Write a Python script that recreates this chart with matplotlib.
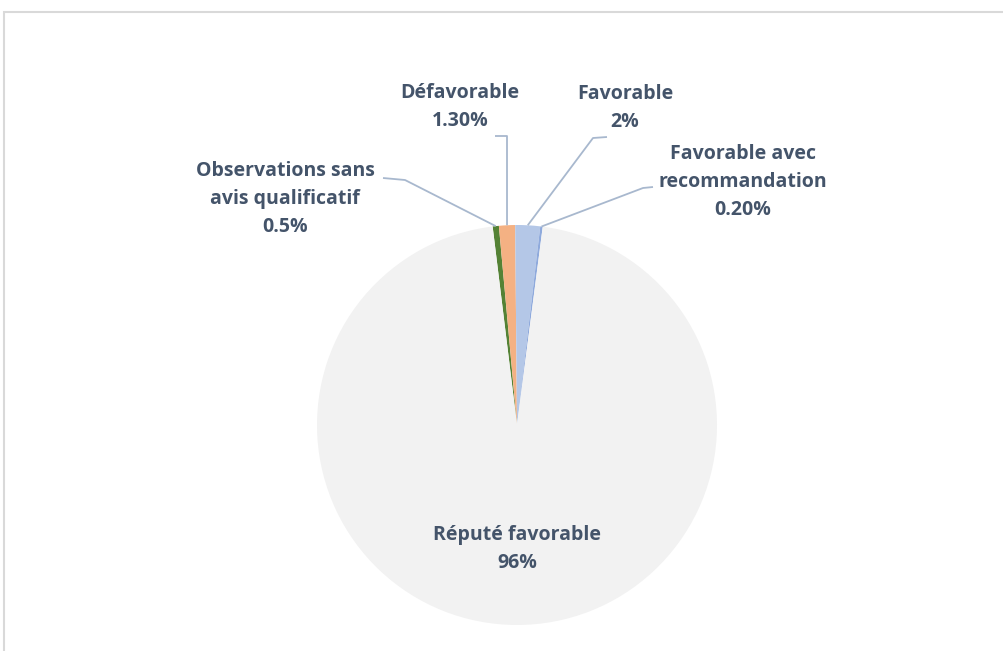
import numpy as np
import matplotlib.pyplot as plt
from matplotlib.patches import Rectangle

# Data
labels = ['Observations sans\navis qualificatif', 'Défavorable', 'Favorable',
          'Favorable avec\nrecommandation', 'Réputé favorable']
values = [0.5, 1.3, 2.0, 0.2, 96.0]
value_text = ['0.5%', '1.30%', '2%', '0.20%', '96%']
colors = ['#548235', '#F4B183', '#B4C7E7', '#8FAADC', '#F2F2F2']

# label placement (data units, pie radius = 1)
label_pos = [(-1.16, 1.13), (-0.285, 1.59), (0.54, 1.585), (1.13, 1.215), (0.0, -0.62)]
elbows = [[(-0.67, 1.235), (-0.56, 1.225)],
          [(-0.11, 1.445), (-0.05, 1.445)],
          [(0.45, 1.44), (0.38, 1.435)],
          [(0.68, 1.19), (0.63, 1.185)],
          None]

text_color = '#44546A'
line_color = '#A8B8CE'
start = 97

fig = plt.figure(figsize=(10.04, 6.51), dpi=100)
ax = fig.add_axes([0, 0, 1, 1])
ax.axis('off')

wedges, _ = ax.pie(values, colors=colors, startangle=start, counterclock=False,
                   radius=1, wedgeprops=dict(linewidth=0))
ax.set_aspect('equal')
ax.set_xlim(-517 / 200, (1004 - 517) / 200)
ax.set_ylim(-(651 - 425) / 200, 425 / 200)

# leader lines and labels
cum = start
for lab, val, vt, pos, elb in zip(labels, values, value_text, label_pos, elbows):
    mid = np.deg2rad(cum - val * 3.6 / 2)
    cum -= val * 3.6
    if elb is not None:
        xs = [elb[0][0], elb[1][0], np.cos(mid)]
        ys = [elb[0][1], elb[1][1], np.sin(mid)]
        ax.plot(xs, ys, color=line_color, linewidth=1.3, solid_capstyle='butt')
    ax.text(pos[0], pos[1], f'{lab}\n{vt}', ha='center', va='center',
            fontsize=14, fontweight='bold', color=text_color,
            family='Open Sans', linespacing=1.55)

# chart border (only top and left visible)
fig.patches.append(Rectangle((4, -50), 1200, 689, transform=None, fill=False,
                             edgecolor='#D9D9D9', linewidth=1.5))

fig.savefig('out.png', dpi=100)
